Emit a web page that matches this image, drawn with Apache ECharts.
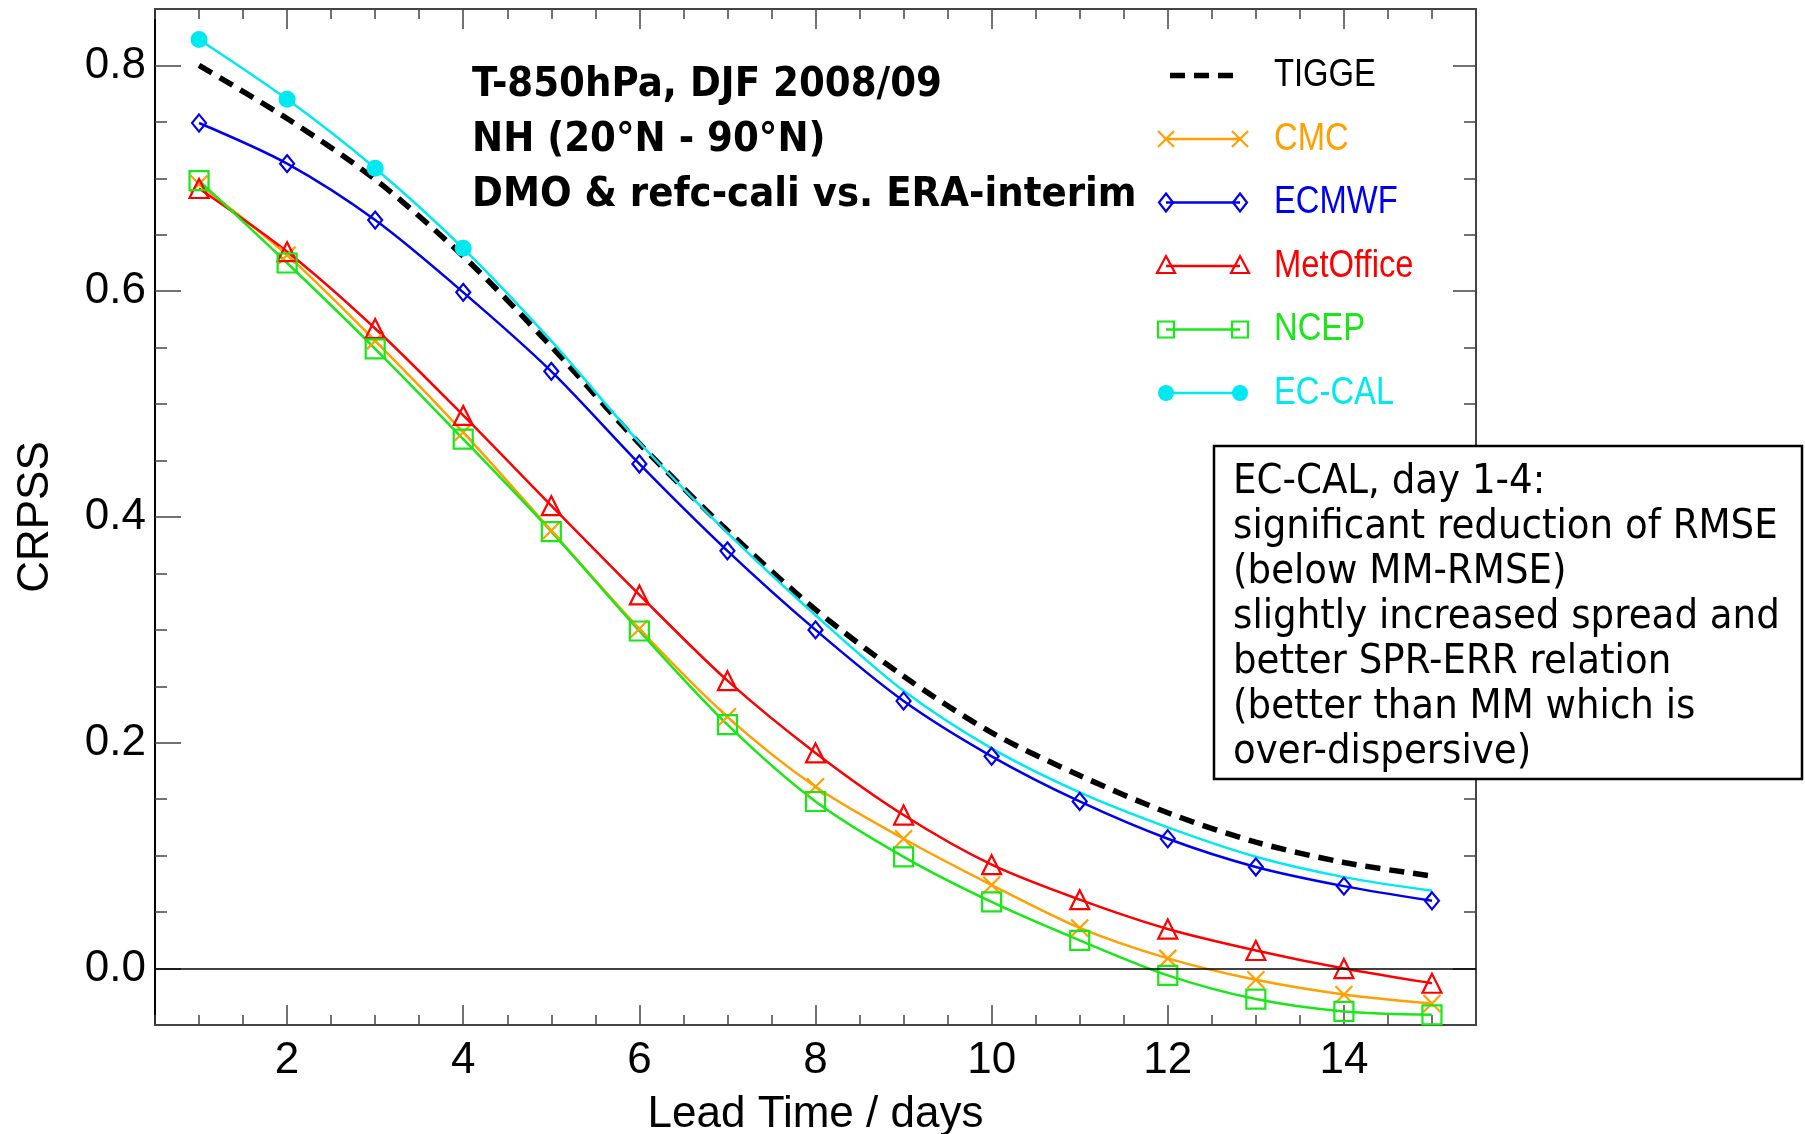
<!DOCTYPE html>
<html><head><meta charset="utf-8">
<script src="https://cdn.jsdelivr.net/npm/echarts@6/dist/echarts.min.js"></script>
<style>html,body{margin:0;padding:0;background:#fff}#c{width:1805px;height:1134px}</style>
</head><body><div id="c"></div>
<script>
// ---------- data ----------
const leadDays   = [1, 2, 3, 4, 5, 6, 7, 8, 9, 10, 11, 12, 13, 14, 15];
const tiggeVals  = [0.800, 0.753, 0.699, 0.631, 0.551, 0.465, 0.388, 0.318, 0.259, 0.209, 0.171, 0.138, 0.112, 0.094, 0.082];
const cmcVals    = [0.695, 0.632, 0.556, 0.475, 0.388, 0.301, 0.223, 0.161, 0.115, 0.074, 0.036, 0.009, -0.010, -0.023, -0.031];
const ecmwfVals  = [0.749, 0.713, 0.663, 0.599, 0.529, 0.447, 0.370, 0.300, 0.237, 0.188, 0.148, 0.115, 0.090, 0.073, 0.060];
const metVals    = [0.691, 0.635, 0.567, 0.490, 0.410, 0.331, 0.255, 0.191, 0.136, 0.092, 0.061, 0.035, 0.016, 0.000, -0.013];
const ncepVals   = [0.698, 0.625, 0.549, 0.469, 0.387, 0.299, 0.216, 0.148, 0.099, 0.059, 0.025, -0.006, -0.027, -0.038, -0.041];
const ecCalVals  = [0.823, 0.770, 0.709, 0.638, 0.556, 0.466, 0.386, 0.313, 0.246, 0.195, 0.156, 0.125, 0.099, 0.081, 0.069];
const ecCalMarkedDays = 4;

const xTickLabels = [2, 4, 6, 8, 10, 12, 14];
const yTickLabels = [0.0, 0.2, 0.4, 0.6, 0.8];
const legendNames = ['TIGGE', 'CMC', 'ECMWF', 'MetOffice', 'NCEP', 'EC-CAL'];
const titleLines = ['T-850hPa, DJF 2008/09', 'NH (20°N - 90°N)', 'DMO & refc-cali vs. ERA-interim'];
const noteLines = ['EC-CAL, day 1-4:', 'significant reduction of RMSE', '(below MM-RMSE)',
  'slightly increased spread and', 'better SPR-ERR relation', '(better than MM which is', 'over-dispersive)'];

// ---------- styling ----------
const COL = { tigge: '#000000', cmc: '#FFA000', ecmwf: '#0000F0', met: '#FF0000', ncep: '#18E818', ecal: '#00E8F0' };
const X_MIN = 0.5, X_MAX = 15.5, Y_MIN = -0.05, Y_MAX = 0.85;
const xMinor = []; for (let i = 1; i <= 31; i++) xMinor.push(i * 0.5);
const yMinor = []; for (let i = -1; i <= 17; i++) yMinor.push(Math.round(i * 5) / 100);
const FRAME = '#444';
const GRID = { left: 155, right: 329, top: 9, bottom: 109, outerBoundsMode: 'none', containLabel: false };
const XPATH = 'path://M0,0L10,10M10,0L0,10';

function pairs(vals) { return leadDays.map((d, i) => [d, vals[i]]); }
function mk(name, vals, color, symbol, size, extra) {
  return Object.assign({
    type: 'line', name, xAxisIndex: 0, yAxisIndex: 0, data: pairs(vals),
    smooth: 0.3, showAllSymbol: true, symbol, symbolSize: size,
    lineStyle: { color, width: 2.5 },
    itemStyle: { color: 'transparent', borderColor: color, borderWidth: 2.2 },
    emphasis: { disabled: true }, animation: false
  }, extra || {});
}

const series = [
  mk('TIGGE', tiggeVals, COL.tigge, 'none', 0, {
    lineStyle: { color: COL.tigge, width: 5.5, type: [15, 9] },
    markLine: { silent: true, symbol: 'none', label: { show: false },
      lineStyle: { color: '#000', width: 1.5, type: 'solid' }, data: [{ yAxis: 0 }] }
  }),
  mk('CMC', cmcVals, COL.cmc, XPATH, 17),
  mk('ECMWF', ecmwfVals, COL.ecmwf, 'diamond', [14, 17]),
  mk('MetOffice', metVals, COL.met, 'triangle', 19),
  mk('NCEP', ncepVals, COL.ncep, 'rect', 19),
  mk('EC-CAL', ecCalVals, COL.ecal, 'circle', (v, p) => p.dataIndex < ecCalMarkedDays ? 17 : 0, {
    itemStyle: { color: COL.ecal, borderWidth: 0 }
  })
];

function baseX(gridIndex, position, ticks, len, extra) {
  return Object.assign({
    type: 'value', gridIndex, position, min: X_MIN, max: X_MAX,
    axisLine: { show: true, onZero: false, lineStyle: { color: FRAME, width: 2 } },
    axisTick: { show: true, inside: true, length: len, customValues: ticks, lineStyle: { color: FRAME, width: 1.5 } },
    axisLabel: { show: false }, splitLine: { show: false }
  }, extra || {});
}
function baseY(gridIndex, position, ticks, len, lineColor, extra) {
  return Object.assign({
    type: 'value', gridIndex, position, min: Y_MIN, max: Y_MAX,
    axisLine: { show: true, onZero: false, lineStyle: { color: lineColor, width: 2 } },
    axisTick: { show: true, inside: true, length: len, customValues: ticks, lineStyle: { color: FRAME, width: 1.5 } },
    axisLabel: { show: false }, splitLine: { show: false }
  }, extra || {});
}

const xAxis = [
  baseX(0, 'bottom', xMinor, 10),
  baseX(0, 'top', xMinor, 10),
  baseX(1, 'bottom', xTickLabels, 20, {
    axisLabel: { show: true, customValues: xTickLabels, margin: 14, color: '#000',
      fontFamily: 'Liberation Sans', fontSize: 44, formatter: v => String(v) },
    name: 'Lead Time / days', nameLocation: 'middle', nameGap: 68,
    nameTextStyle: { color: '#000', fontFamily: 'Liberation Sans', fontSize: 44 }
  }),
  baseX(1, 'top', xTickLabels, 20)
];
const yAxis = [
  baseY(0, 'left', yMinor, 12, '#000'),
  baseY(0, 'right', yMinor, 12, FRAME),
  baseY(1, 'left', yTickLabels, 26, '#000', {
    axisLabel: { show: true, customValues: yTickLabels, margin: 9, color: '#000',
      fontFamily: 'Liberation Sans', fontSize: 44, formatter: v => v.toFixed(1) },
    name: 'CRPSS', nameLocation: 'middle', nameGap: 97, nameRotate: 90,
    nameTextStyle: { color: '#000', fontFamily: 'Liberation Sans', fontSize: 44 }
  }),
  baseY(1, 'right', yTickLabels, 23, FRAME)
];

// ---------- legend & annotations (graphic) ----------
const legendColors = [COL.tigge, COL.cmc, COL.ecmwf, COL.met, COL.ncep, COL.ecal];
const legendMarks = ['none', 'x', 'diamond', 'triangle', 'square', 'circle'];
function marker(kind, cx, cy, color) {
  const st = { stroke: color, lineWidth: 2.2, fill: 'none' };
  if (kind === 'x') return [
    { type: 'line', shape: { x1: cx - 8, y1: cy - 8, x2: cx + 8, y2: cy + 8 }, style: st },
    { type: 'line', shape: { x1: cx - 8, y1: cy + 8, x2: cx + 8, y2: cy - 8 }, style: st }];
  if (kind === 'diamond') return [{ type: 'polygon', shape: { points: [[cx, cy - 9], [cx + 7, cy], [cx, cy + 9], [cx - 7, cy]] }, style: st }];
  if (kind === 'triangle') return [{ type: 'polygon', shape: { points: [[cx, cy - 10], [cx + 9, cy + 7], [cx - 9, cy + 7]] }, style: st }];
  if (kind === 'square') return [{ type: 'rect', shape: { x: cx - 8, y: cy - 8, width: 16, height: 16 }, style: st }];
  if (kind === 'circle') return [{ type: 'circle', shape: { cx, cy, r: 8 }, style: { fill: color } }];
  return [];
}
const graphic = [];
legendNames.forEach((name, i) => {
  const cy = 75.5 + i * 63.5;
  const color = legendColors[i];
  if (i === 0) {
    graphic.push({ type: 'line', shape: { x1: 1170, y1: cy, x2: 1240, y2: cy },
      style: { stroke: color, lineWidth: 5.5, lineDash: [15, 9] } });
  } else {
    graphic.push({ type: 'line', shape: { x1: 1166, y1: cy, x2: 1240, y2: cy }, style: { stroke: color, lineWidth: 2.5 } });
    marker(legendMarks[i], 1166, cy, color).forEach(m => graphic.push(m));
    marker(legendMarks[i], 1240, cy, color).forEach(m => graphic.push(m));
  }
  graphic.push({ type: 'text', x: 1274, y: cy, scaleX: 0.84,
    style: { text: name, fill: color, font: '39px "Liberation Sans"', textAlign: 'left', textVerticalAlign: 'middle' } });
});
titleLines.forEach((t, i) => {
  graphic.push({ type: 'text', x: 472, y: 86 + i * 54.7, scaleX: 0.93,
    style: { text: t, fill: '#000', font: 'bold 40px "DejaVu Sans"', textAlign: 'left', textVerticalAlign: 'middle' } });
});
graphic.push({ type: 'rect', shape: { x: 1214, y: 446, width: 588, height: 333 },
  style: { fill: '#fff', stroke: '#000', lineWidth: 2.5 }, z: 10 });
noteLines.forEach((t, i) => {
  graphic.push({ type: 'text', x: 1233, y: 483 + i * 45, scaleX: 0.93, z: 11,
    style: { text: t, fill: '#000', font: '40px "DejaVu Sans"', textAlign: 'left', textVerticalAlign: 'middle' } });
});

const chart = echarts.init(document.getElementById('c'), null, { renderer: 'canvas' });
chart.setOption({
  animation: false,
  backgroundColor: '#fff',
  grid: [Object.assign({}, GRID), Object.assign({}, GRID)],
  xAxis, yAxis, series, graphic
});
</script>
</body></html>
